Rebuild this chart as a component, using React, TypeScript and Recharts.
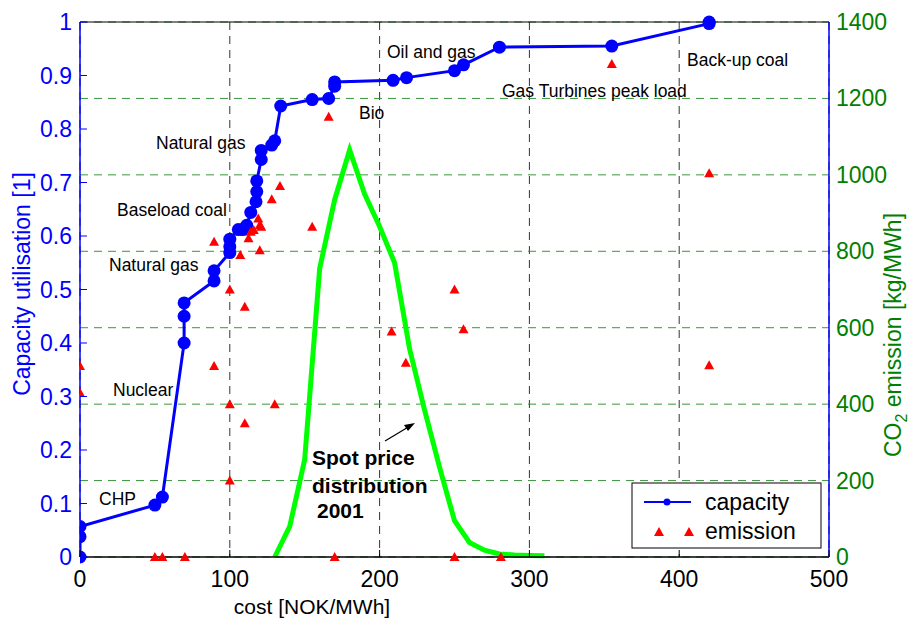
import React from "react";
import {
    ComposedChart,
    Line,
    Scatter,
    XAxis,
    YAxis,
    CartesianGrid,
    ReferenceLine,
} from "recharts";

const FONT = '"Liberation Sans", Arial, Helvetica, sans-serif';

// capacity curve (left axis, 0..1)
const capCost = [0, 0, 0, 50, 55, 69.5, 69.5, 69.5, 89.5, 89.5, 100, 100, 100, 105.7, 108.6, 111.3, 114, 117.5, 118, 118, 121, 121, 128, 130, 134, 155, 166, 170, 170, 209, 218, 250, 256, 280, 355, 420, 420];
const capValue = [0, 0.038, 0.057, 0.097, 0.112, 0.4, 0.45, 0.475, 0.516, 0.535, 0.569, 0.58, 0.594, 0.612, 0.612, 0.62, 0.644, 0.664, 0.683, 0.703, 0.743, 0.76, 0.77, 0.778, 0.843, 0.855, 0.857, 0.88, 0.888, 0.891, 0.896, 0.909, 0.92, 0.953, 0.955, 0.997, 1.0];

// emission markers (right axis, kg/MWh)
const emCost = [0, 0, 50, 55, 70, 89.5, 89.5, 100, 100, 100, 107, 110, 110, 112.5, 114, 116, 119, 120, 121, 120, 128, 133.5, 130, 155, 166, 170, 208, 217.5, 250, 256, 250, 281, 355, 420, 420];
const emValue = [500, 430, 0, 0, 0, 500, 825, 700, 400, 200, 790, 655, 350, 834, 851, 856, 886, 869, 864, 803, 936, 971, 400, 864, 1152, 0, 590, 508, 700, 596, 0, 0, 1290, 1004, 502];

// spot price distribution 2001 (drawn on right axis scale)
const spotCost = [130, 140, 150, 160, 170, 180, 190, 200, 210, 220, 230, 240, 250, 260, 270, 280, 290, 300, 310];
const spotValue = [0, 80, 255, 755, 935, 1065, 950, 865, 770, 545, 385, 235, 95, 38, 18, 8, 5, 4, 3];

const xTicks = [0, 100, 200, 300, 400, 500];
const capTicks = [0, 0.1, 0.2, 0.3, 0.4, 0.5, 0.6, 0.7, 0.8, 0.9, 1];
const emTicks = [0, 200, 400, 600, 800, 1000, 1200, 1400];

const capData = capCost.map((x, i) => ({ x, y: capValue[i] }));
const emData = emCost.map((x, i) => ({ x, y: emValue[i] }));
const spotData = spotCost.map((x, i) => ({ x, y: spotValue[i] }));

const BLUE = "#0000ff";
const DKGREEN = "#008000";

const LeftTick = (p: any) => (
    <g>
        <line x1={p.x + 8} x2={p.x + 15} y1={p.y} y2={p.y} stroke={BLUE} />
        <text x={p.x} y={p.y} dy={8} textAnchor="end" fill={BLUE} fontSize={23} fontFamily={FONT}>
            {p.payload.value}
        </text>
    </g>
);

const RightTick = (p: any) => (
    <text x={p.x} y={p.y} dy={8} textAnchor="start" fill={DKGREEN} fontSize={23} fontFamily={FONT}>
        {p.payload.value}
    </text>
);

const InnerRightTick = (p: any) => (
    <line x1={p.x - 7} x2={p.x} y1={p.y} y2={p.y} stroke={BLUE} />
);

const BottomTick = (p: any) => (
    <g>
        <line x1={p.x} x2={p.x} y1={p.y - 12} y2={p.y - 19} stroke="#000" />
        <text x={p.x} y={p.y} dy={18} textAnchor="middle" fill="#000" fontSize={23} fontFamily={FONT}>
            {p.payload.value}
        </text>
    </g>
);

const Triangle = (p: any) => {
    const { cx, cy } = p;
    return <polygon points={`${cx - 5},${cy + 4} ${cx + 5},${cy + 4} ${cx},${cy - 5}`} fill="#ff0000" />;
};

const notes = [
    { t: "CHP", x: 99, y: 505 },
    { t: "Nuclear", x: 113, y: 396 },
    { t: "Natural gas", x: 109, y: 271 },
    { t: "Baseload coal", x: 117, y: 216 },
    { t: "Natural gas", x: 156, y: 149 },
    { t: "Bio", x: 359, y: 119 },
    { t: "Oil and gas", x: 387, y: 58 },
    { t: "Gas Turbines peak load", x: 502, y: 97 },
    { t: "Back-up coal", x: 687, y: 66 },
];

export default function App() {
    return (
        <div style={{ position: "absolute", left: 0, top: 0, width: 914, height: 626, background: "#fff" }}>
            <ComposedChart width={914} height={626} margin={{ top: 22, right: 10, bottom: 14, left: 10 }}>
                <CartesianGrid horizontal={false} stroke="#333" strokeDasharray="8 6" />
                <CartesianGrid yAxisId="em" vertical={false} stroke="#3a963a" strokeDasharray="8 6" />
                <XAxis
                    dataKey="x"
                    type="number"
                    domain={[0, 500]}
                    ticks={xTicks}
                    interval={0}
                    height={55}
                    axisLine={{ stroke: "#000", strokeWidth: 1.5 }}
                    tickLine={false}
                    tickSize={0}
                    tickMargin={12}
                    tick={BottomTick}
                    allowDataOverflow
                />
                <YAxis
                    yAxisId="cap"
                    type="number"
                    domain={[0, 1]}
                    ticks={capTicks}
                    interval={0}
                    width={70}
                    axisLine={{ stroke: BLUE, strokeWidth: 1.5 }}
                    tickLine={false}
                    tickSize={0}
                    tickMargin={8}
                    tick={LeftTick}
                />
                <YAxis
                    yAxisId="capR"
                    orientation="right"
                    type="number"
                    domain={[0, 1]}
                    ticks={capTicks.slice(1, -1)}
                    interval={0}
                    width={0}
                    axisLine={false}
                    tickLine={false}
                    tickSize={0}
                    tickMargin={0}
                    tick={InnerRightTick}
                />
                <YAxis
                    yAxisId="em"
                    orientation="right"
                    dataKey="y"
                    type="number"
                    domain={[0, 1400]}
                    ticks={emTicks}
                    interval={0}
                    width={75}
                    axisLine={{ stroke: BLUE, strokeWidth: 1.5 }}
                    tickLine={false}
                    tickSize={0}
                    tickMargin={7}
                    tick={RightTick}
                />
                <ReferenceLine yAxisId="cap" y={1} stroke="#000" />
                <Line
                    yAxisId="cap"
                    data={capData}
                    dataKey="y"
                    type="linear"
                    stroke={BLUE}
                    strokeWidth={3}
                    dot={{ r: 6.5, fill: BLUE, stroke: BLUE, strokeWidth: 0 }}
                    isAnimationActive={false}
                />
                <Scatter
                    yAxisId="em"
                    data={emData}
                    dataKey="y"
                    shape={Triangle}
                    fill="#ff0000"
                    isAnimationActive={false}
                />
                <Line
                    yAxisId="em"
                    data={spotData}
                    dataKey="y"
                    type="linear"
                    stroke="#00ff00"
                    strokeWidth={5}
                    dot={false}
                    isAnimationActive={false}
                />
            </ComposedChart>
            <svg
                width={914}
                height={626}
                style={{ position: "absolute", left: 0, top: 0, pointerEvents: "none" }}
                fontFamily={FONT}
            >
                {notes.map((n, i) => (
                    <text key={i} x={n.x} y={n.y} fontSize={17.5} fill="#000">
                        {n.t}
                    </text>
                ))}
                <g fontSize={21} fontWeight="bold" fill="#000">
                    <text x={312} y={465}>Spot price</text>
                    <text x={312} y={493}>distribution</text>
                    <text x={317} y={518}>2001</text>
                </g>
                <line x1={385} y1={441} x2={410} y2={426} stroke="#000" strokeWidth={1.2} />
                <polygon points="415,423 404,425 408,431" fill="#000" />
                <text transform="translate(30,284) rotate(-90)" textAnchor="middle" fontSize={23} fill={BLUE}>
                    Capacity utilisation [1]
                </text>
                <text transform="translate(901,335) rotate(-90)" textAnchor="middle" fontSize={23} fill={DKGREEN}>
                    CO<tspan fontSize={16} dy={6}>2</tspan>
                    <tspan dy={-6}> emission [kg/MWh]</tspan>
                </text>
                <text x={312} y={614} textAnchor="middle" fontSize={21} fill="#000">
                    cost [NOK/MWh]
                </text>
                <rect x={632} y={483} width={189} height={65} fill="#fff" stroke="#000" strokeWidth={1} />
                <line x1={644} x2={691} y1={502} y2={502} stroke={BLUE} strokeWidth={2} />
                <circle cx={667} cy={502} r={3.5} fill={BLUE} />
                <text x={705} y={510} fontSize={23} fill="#000">capacity</text>
                <polygon points="654,536 664,536 659,527" fill="#ff0000" />
                <polygon points="684,536 694,536 689,527" fill="#ff0000" />
                <text x={705} y={539} fontSize={23} fill="#000">emission</text>
            </svg>
        </div>
    );
}
